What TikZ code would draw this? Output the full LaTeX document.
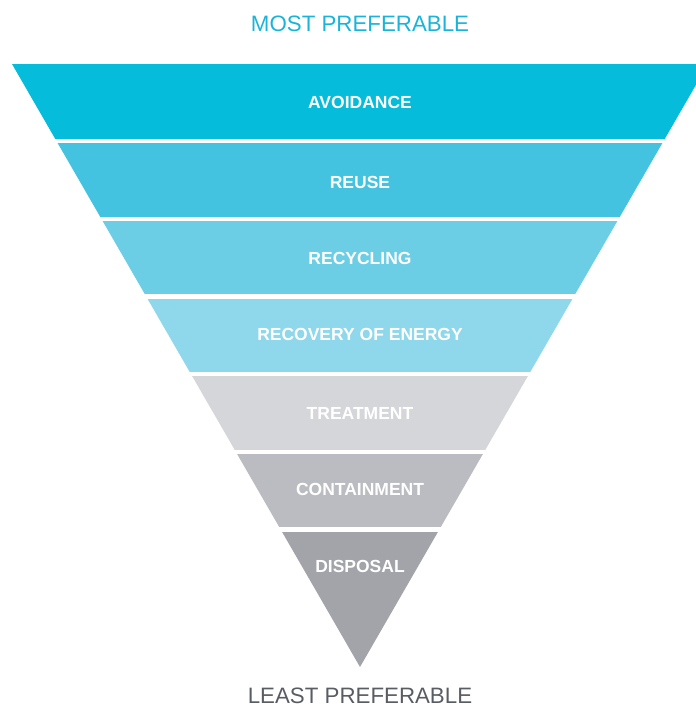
\documentclass[tikz,border=0pt]{standalone}
\usepackage{fontspec}
\setmainfont{Liberation Sans}
\definecolor{cA}{RGB}{5,188,219}
\definecolor{cB}{RGB}{68,195,224}
\definecolor{cC}{RGB}{108,206,228}
\definecolor{cD}{RGB}{143,215,234}
\definecolor{cE}{RGB}{213,214,218}
\definecolor{cF}{RGB}{187,188,193}
\definecolor{cG}{RGB}{163,164,170}
\definecolor{titlecyan}{RGB}{25,180,218}
\definecolor{titlegrey}{RGB}{88,92,99}
\tikzset{
  bandlabel/.style={text=white, inner sep=0pt, anchor=center,
    font=\fontsize{17.5bp}{20bp}\selectfont\bfseries},
  headlabel/.style={inner sep=0pt, anchor=base,
    font=\fontsize{22.3bp}{26bp}\selectfont}
}
\begin{document}
\begin{tikzpicture}[x=1bp,y=-1bp]
\useasboundingbox (0,0) rectangle (696,707);
\begin{scope}
  \clip (12,64) -- (708,64) -- (360,667) -- cycle;
  \fill[cA] (0,64) rectangle (720,139);
  \fill[cB] (0,143) rectangle (720,217);
  \fill[cC] (0,221) rectangle (720,294);
  \fill[cD] (0,298.5) rectangle (720,372);
  \fill[cE] (0,376) rectangle (720,449.5);
  \fill[cF] (0,454) rectangle (720,527);
  \fill[cG] (0,531.5) rectangle (720,670);
\end{scope}
\node[bandlabel] (avoid) at (360,102.5) {AVOIDANCE};
\node[bandlabel] (reuse) at (360,182.5) {REUSE};
\node[bandlabel] (recyc) at (360,258) {RECYCLING};
\node[bandlabel] (recov) at (360,334.5) {RECOVERY OF ENERGY};
\node[bandlabel] (treat) at (360,413) {TREATMENT};
\node[bandlabel] (contain) at (360,489.3) {CONTAINMENT};
\node[bandlabel] (disp) at (360,566.5) {DISPOSAL};
\node[headlabel, text=titlecyan] (most) at (360,32) {MOST PREFERABLE};
\node[headlabel, text=titlegrey] (least) at (360,703) {LEAST PREFERABLE};
\end{tikzpicture}
\end{document}
